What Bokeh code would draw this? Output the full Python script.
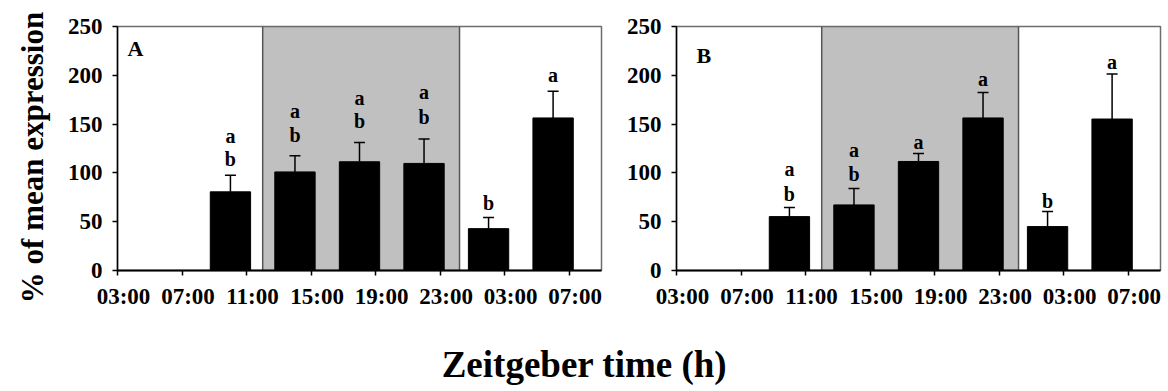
import numpy as np
from bokeh.plotting import figure
from bokeh.models import (Range1d, FixedTicker, LinearAxis, Label, Whisker, TeeHead,
                          ColumnDataSource, CustomJSTickFormatter)
from bokeh.layouts import column, row
from bokeh.embed import file_html
from bokeh.resources import INLINE
from bokeh.core.properties import value

# ---------------- data ----------------
tick_hours = [0, 4, 8, 12, 16, 20, 24, 28]          # hours after 03:00
tick_labels = ["03:00", "07:00", "11:00", "15:00", "19:00", "23:00", "03:00", "07:00"]
y_ticks = [0, 50, 100, 150, 200, 250]
bar_hours = [7, 11, 15, 19, 23, 27]                  # 10:00, 14:00, ... 06:00
dark_start, dark_end = 9, 21.2                       # dark phase (shaded)

a_mean = [80.6, 101.0, 111.4, 109.7, 42.9, 156.3]
a_sem = [17.1, 16.6, 19.8, 25.0, 11.3, 27.3]
a_sig_x = [7, 7, 11, 11, 15, 15, 19, 19, 23, 27]
a_sig_text = ["a", "b", "a", "b", "a", "b", "a", "b", "b", "a"]
a_sig_y = [138.3, 114.4, 163.9, 139.3, 176.9, 152.7, 182.7, 157.1, 69.4, 199.8]

b_mean = [55.2, 67.2, 111.7, 156.3, 45.0, 155.2]
b_sem = [9.3, 16.8, 8.2, 26.2, 15.4, 46.2]
b_sig_x = [7, 7, 11, 11, 15, 19, 23, 27]
b_sig_text = ["a", "b", "a", "b", "a", "a", "b", "a"]
b_sig_y = [103.5, 78.6, 123.5, 99.1, 131.5, 195.7, 71.7, 213.4]

FONT = "Liberation Serif"
label_shift = 0.37


def make_panel(mean, sem, sig_x, sig_text, sig_y, letter, letter_x, letter_y,
               width, border_left, border_right):
    p = figure(width=width, height=320, x_range=Range1d(0, 30), y_range=Range1d(0, 250),
               x_axis_type=None, toolbar_location=None, output_backend="svg",
               min_border_left=border_left, min_border_right=border_right,
               min_border_top=26, min_border_bottom=50, title=None)
    p.background_fill_color = "white"
    p.border_fill_color = "white"
    p.outline_line_color = "#6e6e6e"
    p.outline_line_width = 1.5
    p.grid.visible = False

    # dark phase
    p.quad(left=[dark_start], right=[dark_end], bottom=[0], top=[250],
           fill_color="#c0c0c0", line_color="#555555", line_width=1.5)

    src = ColumnDataSource(dict(x=bar_hours, top=mean,
                                upper=[m + s for m, s in zip(mean, sem)]))
    p.vbar(x="x", top="top", bottom=0, width=2.5, source=src,
           fill_color="black", line_color="black")
    p.add_layout(Whisker(source=src, base="x", lower="top", upper="upper",
                         dimension="height", line_color="black", line_width=1.5,
                         level="annotation",
                         upper_head=TeeHead(size=11, line_color="black", line_width=1.5),
                         lower_head=None))

    p.text(x=sig_x, y=sig_y, text=sig_text, text_font=value(FONT),
           text_font_size="20px", text_font_style="bold", text_align="center",
           text_baseline="middle", text_color="black")

    p.add_layout(Label(x=letter_x, y=letter_y, text=letter, text_font=FONT,
                       text_font_size="22px", text_font_style="bold", text_color="black",
                       text_align="left", text_baseline="middle"))

    # y axis
    ya = p.yaxis[0]
    ya.ticker = FixedTicker(ticks=y_ticks)
    ya.minor_tick_line_color = None
    ya.major_tick_out = 5
    ya.major_tick_in = 0
    ya.major_label_standoff = 10
    ya.axis_line_color = "black"
    ya.axis_line_width = 1.5
    ya.major_tick_line_width = 1.5
    ya.major_label_text_font = FONT
    ya.major_label_text_font_size = "23px"
    ya.major_label_text_font_style = "bold"
    ya.major_label_text_color = "black"

    # x axis: tick marks only
    xt = LinearAxis(ticker=FixedTicker(ticks=tick_hours),
                    formatter=CustomJSTickFormatter(code="return '';"),
                    major_label_text_font_size="0px", major_label_standoff=0,
                    major_tick_out=5, major_tick_in=0, minor_tick_line_color=None,
                    axis_line_color="black", axis_line_width=2,
                    major_tick_line_width=1.5)
    p.add_layout(xt, "below")
    # x axis: labels (slightly right of the ticks, as in the original)
    xl = LinearAxis(ticker=FixedTicker(ticks=[h + label_shift for h in tick_hours]),
                    formatter=CustomJSTickFormatter(args=dict(labels=tick_labels),
                                                    code="return labels[index];"),
                    major_label_standoff=8, major_tick_out=0, major_tick_in=0,
                    major_tick_line_color=None, minor_tick_line_color=None,
                    axis_line_color=None,
                    major_label_text_font=FONT, major_label_text_font_size="23px",
                    major_label_text_font_style="bold", major_label_text_color="black")
    p.add_layout(xl, "below")
    return p


# left strip with the y title (full height of the page)
pL = figure(width=60, height=391, x_range=Range1d(0, 60), y_range=Range1d(0, 391),
            x_axis_type=None, y_axis_type=None, toolbar_location=None,
            output_backend="svg", min_border=0, title=None)
pL.outline_line_color = None
pL.grid.visible = False
pL.add_layout(Label(x=31.5, y=234, text="% of mean expression", angle=np.pi / 2,
                    text_font=FONT, text_font_size="31px", text_font_style="bold",
                    text_color="black", text_align="center", text_baseline="middle"))

pA = make_panel(a_mean, a_sem, a_sig_x, a_sig_text, a_sig_y, "A", 0.62, 227.5,
                560, 57, 19)
pB = make_panel(b_mean, b_sem, b_sig_x, b_sig_text, b_sig_y, "B", 1.24, 220.3,
                548, 56, 8)

p3 = figure(width=1108, height=71, x_range=Range1d(0, 1108), y_range=Range1d(0, 71),
            x_axis_type=None, y_axis_type=None, toolbar_location=None,
            output_backend="svg", min_border=0, title=None)
p3.outline_line_color = None
p3.grid.visible = False
p3.add_layout(Label(x=524, y=27.5, text="Zeitgeber time (h)", text_font=FONT,
                    text_font_size="37px", text_font_style="bold", text_color="black",
                    text_align="center", text_baseline="middle"))

layout = row(pL, column(row(pA, pB), p3))
open("out.html", "w").write(file_html(layout, INLINE))
